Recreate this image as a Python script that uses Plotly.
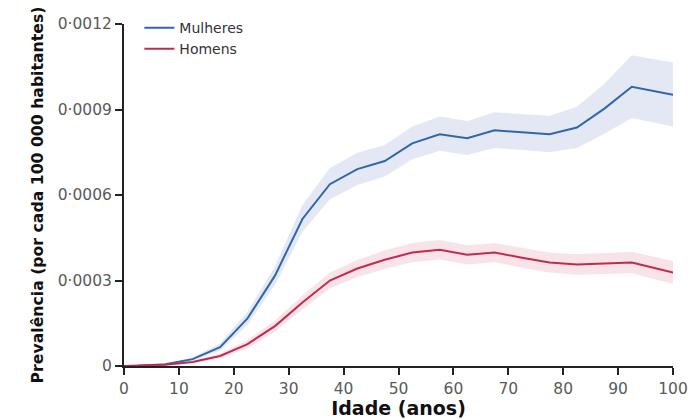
import plotly.graph_objects as go

ages = [0, 2.5, 7.5, 12.5, 17.5, 22.5, 27.5, 32.5, 37.5, 42.5, 47.5, 52.5, 57.5,
        62.5, 67.5, 72.5, 77.5, 82.5, 87.5, 92.5, 100]

women = [0, 0.000001, 0.000006, 0.000024, 0.000066, 0.000167, 0.000317, 0.000516,
         0.000638, 0.000691, 0.000719, 0.000781, 0.000813, 0.000799, 0.000827,
         0.000820, 0.000813, 0.000837, 0.000903, 0.000980, 0.000952]
women_lo = [0, 0.000001, 0.000004, 0.000018, 0.000054, 0.000145, 0.000285, 0.000470,
            0.000585, 0.000635, 0.000665, 0.000725, 0.000755, 0.000740, 0.000765,
            0.000758, 0.000750, 0.000765, 0.000815, 0.000870, 0.000840]
women_hi = [0, 0.000001, 0.000008, 0.000030, 0.000080, 0.000190, 0.000350, 0.000565,
            0.000695, 0.000748, 0.000775, 0.000840, 0.000875, 0.000860, 0.000890,
            0.000885, 0.000878, 0.000910, 0.000990, 0.001090, 0.001065]

men = [0, 0.000001, 0.000004, 0.000014, 0.000035, 0.000077, 0.000140, 0.000223,
       0.000300, 0.000342, 0.000373, 0.000398, 0.000408, 0.000390, 0.000398,
       0.000380, 0.000363, 0.000356, 0.000359, 0.000363, 0.000328]
men_lo = [0, 0.000001, 0.000002, 0.000010, 0.000027, 0.000063, 0.000120, 0.000198,
          0.000272, 0.000312, 0.000340, 0.000364, 0.000374, 0.000356, 0.000364,
          0.000345, 0.000328, 0.000320, 0.000322, 0.000325, 0.000288]
men_hi = [0, 0.000001, 0.000006, 0.000018, 0.000043, 0.000091, 0.000160, 0.000248,
          0.000328, 0.000372, 0.000406, 0.000432, 0.000442, 0.000424, 0.000432,
          0.000415, 0.000398, 0.000392, 0.000396, 0.000401, 0.000368]

y_ticks = [0, 0.0003, 0.0006, 0.0009, 0.0012]
y_tick_labels = ["0", "0·0003", "0·0006", "0·0009", "0·0012"]
x_ticks = list(range(0, 101, 10))

blue = "#2f67ab"
red = "#c42a4f"
blue_fill = "rgba(214,220,240,0.65)"
red_fill = "rgba(244,214,220,0.65)"

fig = go.Figure()
# bands
fig.add_trace(go.Scatter(x=ages, y=women_hi, mode="lines", line=dict(width=0),
                         showlegend=False, hoverinfo="skip"))
fig.add_trace(go.Scatter(x=ages, y=women_lo, mode="lines", line=dict(width=0),
                         fill="tonexty", fillcolor=blue_fill, showlegend=False, hoverinfo="skip"))
fig.add_trace(go.Scatter(x=ages, y=men_hi, mode="lines", line=dict(width=0),
                         showlegend=False, hoverinfo="skip"))
fig.add_trace(go.Scatter(x=ages, y=men_lo, mode="lines", line=dict(width=0),
                         fill="tonexty", fillcolor=red_fill, showlegend=False, hoverinfo="skip"))
# lines
fig.add_trace(go.Scatter(x=ages, y=women, mode="lines", name="Mulheres",
                         line=dict(color=blue, width=2)))
fig.add_trace(go.Scatter(x=ages, y=men, mode="lines", name="Homens",
                         line=dict(color=red, width=2)))

tick_font = "'DejaVu Sans', sans-serif"
title_font = "'DejaVu Sans', sans-serif"

fig.update_layout(
    width=692, height=419,
    margin=dict(l=124, r=19, t=22, b=53),
    paper_bgcolor="white", plot_bgcolor="white",
    font=dict(family=tick_font, size=15, color="#5a5a5a"),
    legend=dict(x=0.028, y=1.035, xanchor="left", yanchor="top", traceorder="normal",
                bgcolor="rgba(0,0,0,0)", font=dict(size=14, color="#333"),
                tracegroupgap=0),
    xaxis=dict(range=[0, 100], tickmode="array", tickvals=x_ticks, automargin=False,
               showgrid=False, zeroline=False, showline=True, linecolor="#222", linewidth=2,
               ticks="outside", ticklen=7, tickwidth=2, tickcolor="#222",
               tickfont=dict(size=15.5, color="#5a5a5a"),
               title=dict(text="<b>Idade (anos)</b>",
                          font=dict(family=title_font, size=19, color="#111"), standoff=4)),
    yaxis=dict(range=[0, 0.0012], tickmode="array", tickvals=y_ticks, ticktext=y_tick_labels,
               automargin=False,
               showgrid=False, zeroline=False, showline=True, linecolor="#222", linewidth=2,
               ticks="outside", ticklen=7, tickwidth=2, tickcolor="#222",
               tickfont=dict(size=15.5, color="#5a5a5a"),
               title=dict(text="<b>Prevalência (por cada 100 000 habitantes)</b>",
                          font=dict(family=title_font, size=15.7, color="#111"), standoff=10)),
)

fig.write_html("out.html", config={"displayModeBar": False},
               post_script="document.body.style.margin='0';document.body.style.overflow='hidden';")
